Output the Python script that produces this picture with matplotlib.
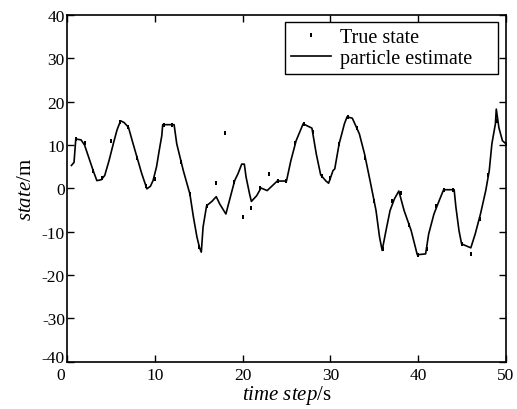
import numpy as np
import matplotlib.pyplot as plt
import matplotlib.transforms as mtransforms

plt.rcParams['font.family'] = 'Liberation Serif'
plt.rcParams['mathtext.fontset'] = 'custom'
plt.rcParams['mathtext.rm'] = 'Liberation Serif'
plt.rcParams['mathtext.it'] = 'Liberation Serif:italic'
plt.rcParams['axes.unicode_minus'] = False

# particle estimate
est_t = [0.5, 0.8, 1.0, 1.6, 2.0, 2.5, 3.0, 3.4, 3.9, 4.3, 4.8, 5.3, 5.7, 6.1, 6.5,
         7.0, 7.5, 8.0, 8.5, 9.1, 9.5, 9.8, 10.2, 10.5, 10.8, 10.9, 12.2, 12.5,
         13.25, 14.0, 14.4, 14.8, 15.1, 15.3, 15.5, 15.9, 16.5, 17.0, 17.4, 18.1,
         18.5, 19.1, 19.5, 19.9, 20.2, 20.4, 20.8, 21.0, 21.6, 22.1, 22.8, 23.95,
         25.0, 25.5, 26.1, 26.9, 27.9, 28.4, 28.9, 29.5, 29.8, 30.3, 30.5, 31.0,
         31.6, 31.9, 32.5, 33.3, 33.9, 34.6, 35.2, 35.6, 35.9, 36.3, 36.8, 37.3,
         37.8, 38.4, 39.2, 39.9, 40.85, 41.2, 41.8, 42.4, 42.9, 44.1, 44.3, 44.65,
         44.95, 46.0, 46.5, 47.1, 47.7, 48.1, 48.4, 48.8, 48.9, 49.2, 49.6, 50.0]
est_x = [5.3, 6.0, 11.4, 11.2, 10.0, 7.0, 4.0, 1.8, 2.0, 3.0, 6.5, 10.5, 13.5, 15.6, 15.2,
         14.1, 10.5, 7.0, 3.5, -0.1, 0.5, 1.8, 5.0, 8.7, 12.2, 14.7, 14.7, 10.3,
         4.1, -1.3, -6.6, -11.2, -13.7, -14.7, -8.9, -4.0, -3.0, -1.9, -3.6, -5.9,
         -2.8, 1.8, 3.5, 5.6, 5.6, 2.6, -1.3, -3.0, -1.7, 0.1, -0.5, 1.7,
         1.7, 6.4, 11.0, 14.9, 13.9, 7.9, 3.1, 1.7, 1.2, 4.1, 4.5, 10.3,
         14.9, 16.5, 16.2, 12.6, 7.9, 1.0, -5.1, -11.2, -14.3, -10.1, -5.1, -2.4,
         -0.6, -5.1, -9.7, -15.3, -15.1, -10.5, -5.9, -2.8, -0.3, -0.3, -4.3, -9.7,
         -12.8, -13.7, -10.5, -5.9, -0.5, 4.1, 10.3, 14.9, 18.3, 14.0, 11.0, 10.3]

# true state at every time step
true_t = np.arange(1, 51)
true_x = [11.4, 10.5, 4.0, 2.5, 10.9, 15.4, 14.1, 7.0, 0.5, 2.2,
          14.7, 14.7, 6.0, -1.3, -13.5, -4.0, 1.2, 12.7, 1.5, -6.5,
          -4.6, 0.0, 3.3, 1.7, 1.7, 10.5, 14.8, 13.0, 2.8, 2.5,
          10.3, 16.5, 14.0, 7.0, -3.0, -14.0, -3.0, -1.0, -8.5, -15.3,
          -14.0, -4.0, -0.3, -0.3, -12.8, -15.1, -7.0, 3.0, 15.5, 10.3]

fig = plt.figure(figsize=(5.17, 4.10), dpi=100)
ax = fig.add_axes([0.1296, 0.115, 0.849, 0.846])

# small vertical dash as marker
dash = [(-0.5, -1), (0.5, -1), (0.5, 1), (-0.5, 1), (-0.5, -1)]
ax.plot(true_t, true_x, linestyle='none', marker=dash, ms=2.5, mew=0,
        color='black', label='True state')
ax.plot(est_t, est_x, color='black', lw=1.2, label='particle estimate')

ax.set_xlim(0, 50)
ax.set_ylim(-40, 40)
ax.set_xticks([0, 10, 20, 30, 40, 50])
ax.set_yticks(range(-40, 41, 10))
ax.tick_params(direction='in', top=True, right=True, length=5, width=1,
               labelsize=12.5, pad=1.5)
ax.tick_params(axis='x', pad=3.5)
for s in ax.spines.values():
    s.set_linewidth(1.2)

# the "0" under -40 sits a bit to the left, the -40 a bit higher
lbl0 = ax.get_xticklabels()[0]
lbl0.set_transform(lbl0.get_transform() +
                   mtransforms.ScaledTranslation(-6 / 100, 0, fig.dpi_scale_trans))
lbl40 = ax.get_yticklabels()[0]
lbl40.set_transform(lbl40.get_transform() +
                    mtransforms.ScaledTranslation(0, 6 / 100, fig.dpi_scale_trans))

ax.set_xlabel(r'$\mathit{time\ step}/\mathrm{s}$', fontsize=15, labelpad=0)
ax.set_ylabel(r'$\mathit{state}/\mathrm{m}$', fontsize=15, labelpad=4)

leg = ax.legend(loc='upper left', bbox_to_anchor=(0.4966, 0.0, 0.4852, 0.98),
                mode='expand', borderaxespad=0, fontsize=14.5, frameon=True,
                fancybox=False, edgecolor='black', framealpha=1,
                handlelength=2.0, handletextpad=0.45, labelspacing=0.1,
                borderpad=0.3, markerscale=1.2)
leg.get_frame().set_linewidth(1.0)

fig.savefig('out.png', dpi=100)
